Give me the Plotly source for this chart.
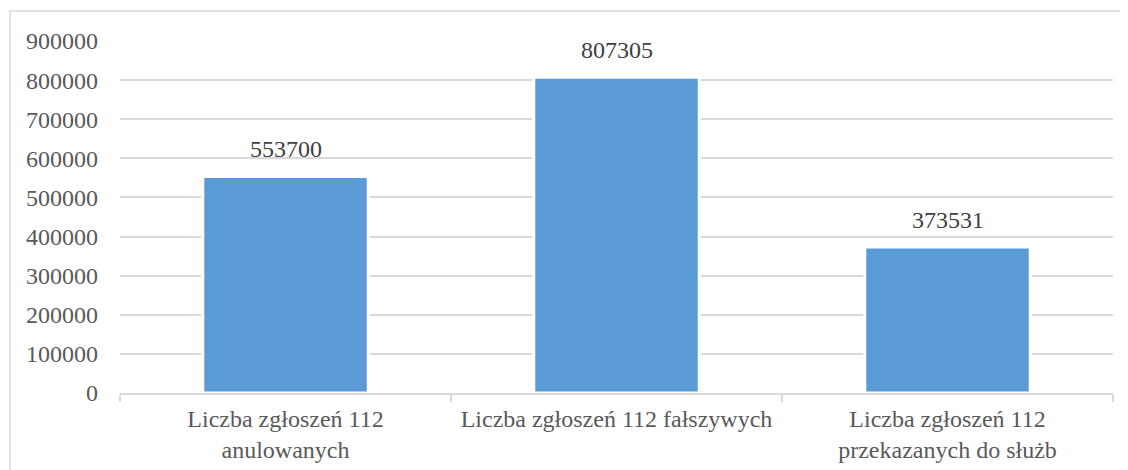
import plotly.graph_objects as go

# Liczba zgłoszeń 112
categories = [
    "Liczba zgłoszeń 112<br>anulowanych",
    "Liczba zgłoszeń 112 fałszywych",
    "Liczba zgłoszeń 112<br>przekazanych do służb",
]
values = [553700, 807305, 373531]
y_ticks = list(range(0, 900001, 100000))

fig = go.Figure(go.Bar(
    x=categories,
    y=values,
    marker=dict(color="#5B9BD5", line=dict(color="white", width=3)),
    width=0.5,
))

# value labels above the bars
for c, v in zip(categories, values):
    fig.add_annotation(
        x=c, y=v, text=str(v), showarrow=False,
        yanchor="bottom", yshift=12,
        font=dict(size=24, color="#404040", family="Liberation Serif"),
    )

fig.update_layout(
    width=1128, height=470,
    margin=dict(l=112, r=23, t=33, b=85),
    plot_bgcolor="white",
    paper_bgcolor="white",
    font=dict(family="Liberation Serif", size=24, color="#595959"),
    showlegend=False,
    shapes=[dict(
        type="rect", xref="paper", yref="paper",
        x0=-0.1108, x1=1.05, y0=-0.3, y1=1.085,
        line=dict(color="#d9d9d9", width=1.5),
        fillcolor="rgba(0,0,0,0)", layer="below",
    )],
)
fig.update_yaxes(
    range=[0, 900000],
    tickvals=y_ticks,
    ticktext=[str(v) for v in y_ticks],
    showgrid=True, gridcolor="#d9d9d9", gridwidth=1.5,
    zeroline=False, showline=False,
    ticklabelstandoff=21,
)
fig.update_xaxes(
    showline=True, linecolor="#d9d9d9", linewidth=1.5,
    ticks="outside", tickson="boundaries", ticklen=7, tickcolor="#d9d9d9", tickwidth=1.5,
    tickangle=0, ticklabelstandoff=3,
)

fig.write_html("out.html")
